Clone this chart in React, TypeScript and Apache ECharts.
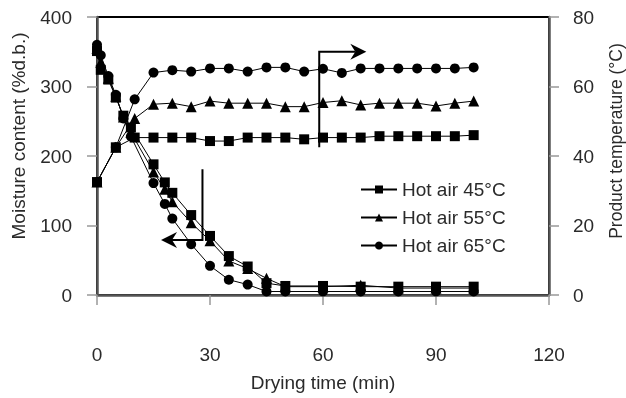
import React, { useEffect, useRef } from "react";
import * as echarts from "echarts";

const timeMoisture = [0, 1, 3, 5, 7, 9, 15, 18, 20, 25, 30, 35, 40, 45, 50, 60, 70, 80, 90, 100];
const moisture45 = [351, 324, 310, 284, 258, 241, 188, 162, 147, 115, 85, 56, 41, 17, 13, 13, 12, 12, 12, 12];
const moisture55 = [355, 335, 312, 286, 256, 234, 177, 152, 134, 104, 78, 49, 38, 24, 12, 12, 14, 10, 10, 10];
const moisture65 = [360, 345, 315, 288, 254, 228, 161, 131, 110, 73, 42, 22, 15, 5, 5, 5, 5, 5, 5, 5];

const timeTemp = [0, 5, 10, 15, 20, 25, 30, 35, 40, 45, 50, 55, 60, 65, 70, 75, 80, 85, 90, 95, 100];
const temp45 = [32.5, 42.5, 45.3, 45.3, 45.3, 45.3, 44.3, 44.3, 45.3, 45.3, 45.3, 44.8, 45.3, 45.3, 45.3, 45.7, 45.7, 45.7, 45.7, 45.7, 46.0];
const temp55 = [32.5, 42.5, 50.8, 54.9, 55.2, 54.2, 55.8, 55.2, 55.2, 55.2, 54.2, 54.2, 55.4, 55.9, 54.7, 55.2, 55.2, 55.2, 54.4, 55.2, 55.8];
const temp65 = [32.5, 42.5, 56.3, 64.0, 64.7, 64.3, 65.2, 65.2, 64.3, 65.5, 65.5, 64.3, 65.1, 63.9, 65.2, 65.2, 65.2, 65.2, 65.2, 65.2, 65.5];

const seriesNames = ["Hot air 45°C", "Hot air 55°C", "Hot air 65°C"];
const symbols = ["rect", "triangle", "circle"];

const xTitle = "Drying time (min)";
const yLeftTitle = "Moisture content (%d.b.)";
const yRightTitle = "Product temperature (°C)";

// annotation arrows in data coordinates
const tempArrow = { x: 59, yFrom: 42.5, yTo: 70, xTo: 71.5 };
const moistArrow = { x: 28, yFrom: 181, yTo: 79, xTo: 17 };

export default function App() {
  const ref = useRef<HTMLDivElement>(null);
  useEffect(() => {
    const chart = echarts.init(ref.current!, null, { renderer: "svg" });
    const font = "Liberation Sans, Arial, sans-serif";
    const textColor = "#2a2a2a";
    const mk = (name: string, times: number[], vals: number[], symbol: string, yIndex: number) => ({
      name,
      type: "line",
      yAxisIndex: yIndex,
      data: times.map((t, i) => [t, vals[i]]),
      symbol,
      symbolSize: symbol === "triangle" ? 11 : 10,
      showSymbol: true,
      lineStyle: { color: "#000", width: 1 },
      itemStyle: { color: "#000" },
      emphasis: { disabled: true },
    });
    const moist = [moisture45, moisture55, moisture65];
    const temps = [temp45, temp55, temp65];
    const series: any[] = [];
    for (let i = 0; i < 3; i++) series.push(mk(seriesNames[i], timeMoisture, moist[i], symbols[i], 0));
    for (let i = 0; i < 3; i++) series.push(mk(seriesNames[i], timeTemp, temps[i], symbols[i], 1));

    const axisLine = { show: true, lineStyle: { color: "#555", width: 2.5 } };
    const axisTick = { show: true, length: 10, lineStyle: { color: "#999", width: 1.5 } };
    const label = { fontSize: 19, color: textColor, fontFamily: font };

    chart.setOption({
      animation: false,
      grid: {
        left: 97,
        right: 77,
        top: 17,
        bottom: 103,
        show: true,
        borderColor: "#000",
        borderWidth: 2,
        containLabel: false,
        outerBoundsMode: "none",
      },
      legend: {
        orient: "vertical",
        left: 355,
        top: 175,
        itemWidth: 36,
        itemHeight: 10,
        itemGap: 9,
        data: seriesNames,
        textStyle: { fontSize: 19, color: textColor, fontFamily: font },
      },
      xAxis: {
        type: "value",
        min: 0,
        max: 120,
        interval: 30,
        splitLine: { show: false },
        axisLine,
        axisTick,
        axisLabel: { ...label, margin: 50 },
        name: xTitle,
        nameLocation: "middle",
        nameGap: 78,
        nameTextStyle: { fontSize: 19, color: textColor, fontFamily: font },
      },
      yAxis: [
        {
          type: "value",
          min: 0,
          max: 400,
          interval: 100,
          splitLine: { show: false },
          axisLine,
          axisTick,
          axisLabel: { ...label, margin: 25 },
          name: yLeftTitle,
          nameLocation: "middle",
          nameGap: 69,
          nameTextStyle: { fontSize: 19, color: textColor, fontFamily: font, padding: [0, 0, 0, 40] },
        },
        {
          type: "value",
          min: 0,
          max: 80,
          interval: 20,
          position: "right",
          splitLine: { show: false },
          axisLine,
          axisTick,
          axisLabel: { ...label, margin: 24 },
          name: yRightTitle,
          nameLocation: "middle",
          nameRotate: 90,
          nameGap: 58,
          nameTextStyle: { fontSize: 17.5, color: textColor, fontFamily: font, padding: [0, 0, 0, 30] },
        },
      ],
      series,
    });

    const px = (si: number, x: number, y: number) => chart.convertToPixel({ seriesIndex: si }, [x, y]) as number[];
    const arrow = (pts: number[][], dir: number) => {
      const tip = pts[pts.length - 1];
      const [tx, ty] = tip;
      const head = [
        [tx, ty],
        [tx - dir * 16, ty - 8],
        [tx - dir * 11, ty],
        [tx - dir * 16, ty + 8],
      ];
      return [
        {
          type: "polyline",
          shape: { points: [pts[0], pts[1], [tx - dir * 11, ty]] },
          style: { stroke: "#000", lineWidth: 2, fill: null },
          silent: true,
        },
        { type: "polygon", shape: { points: head }, style: { fill: "#000" }, silent: true },
      ];
    };
    const a1 = [
      px(3, tempArrow.x, tempArrow.yFrom),
      px(3, tempArrow.x, tempArrow.yTo),
      px(3, tempArrow.xTo, tempArrow.yTo),
    ];
    const a2 = [
      px(0, moistArrow.x, moistArrow.yFrom),
      px(0, moistArrow.x, moistArrow.yTo),
      px(0, moistArrow.xTo, moistArrow.yTo),
    ];
    chart.setOption({ graphic: [...arrow(a1, 1), ...arrow(a2, -1)] });

    return () => chart.dispose();
  }, []);
  return <div ref={ref} style={{ position: "fixed", left: 0, top: 0, width: 626, height: 398 }} />;
}
